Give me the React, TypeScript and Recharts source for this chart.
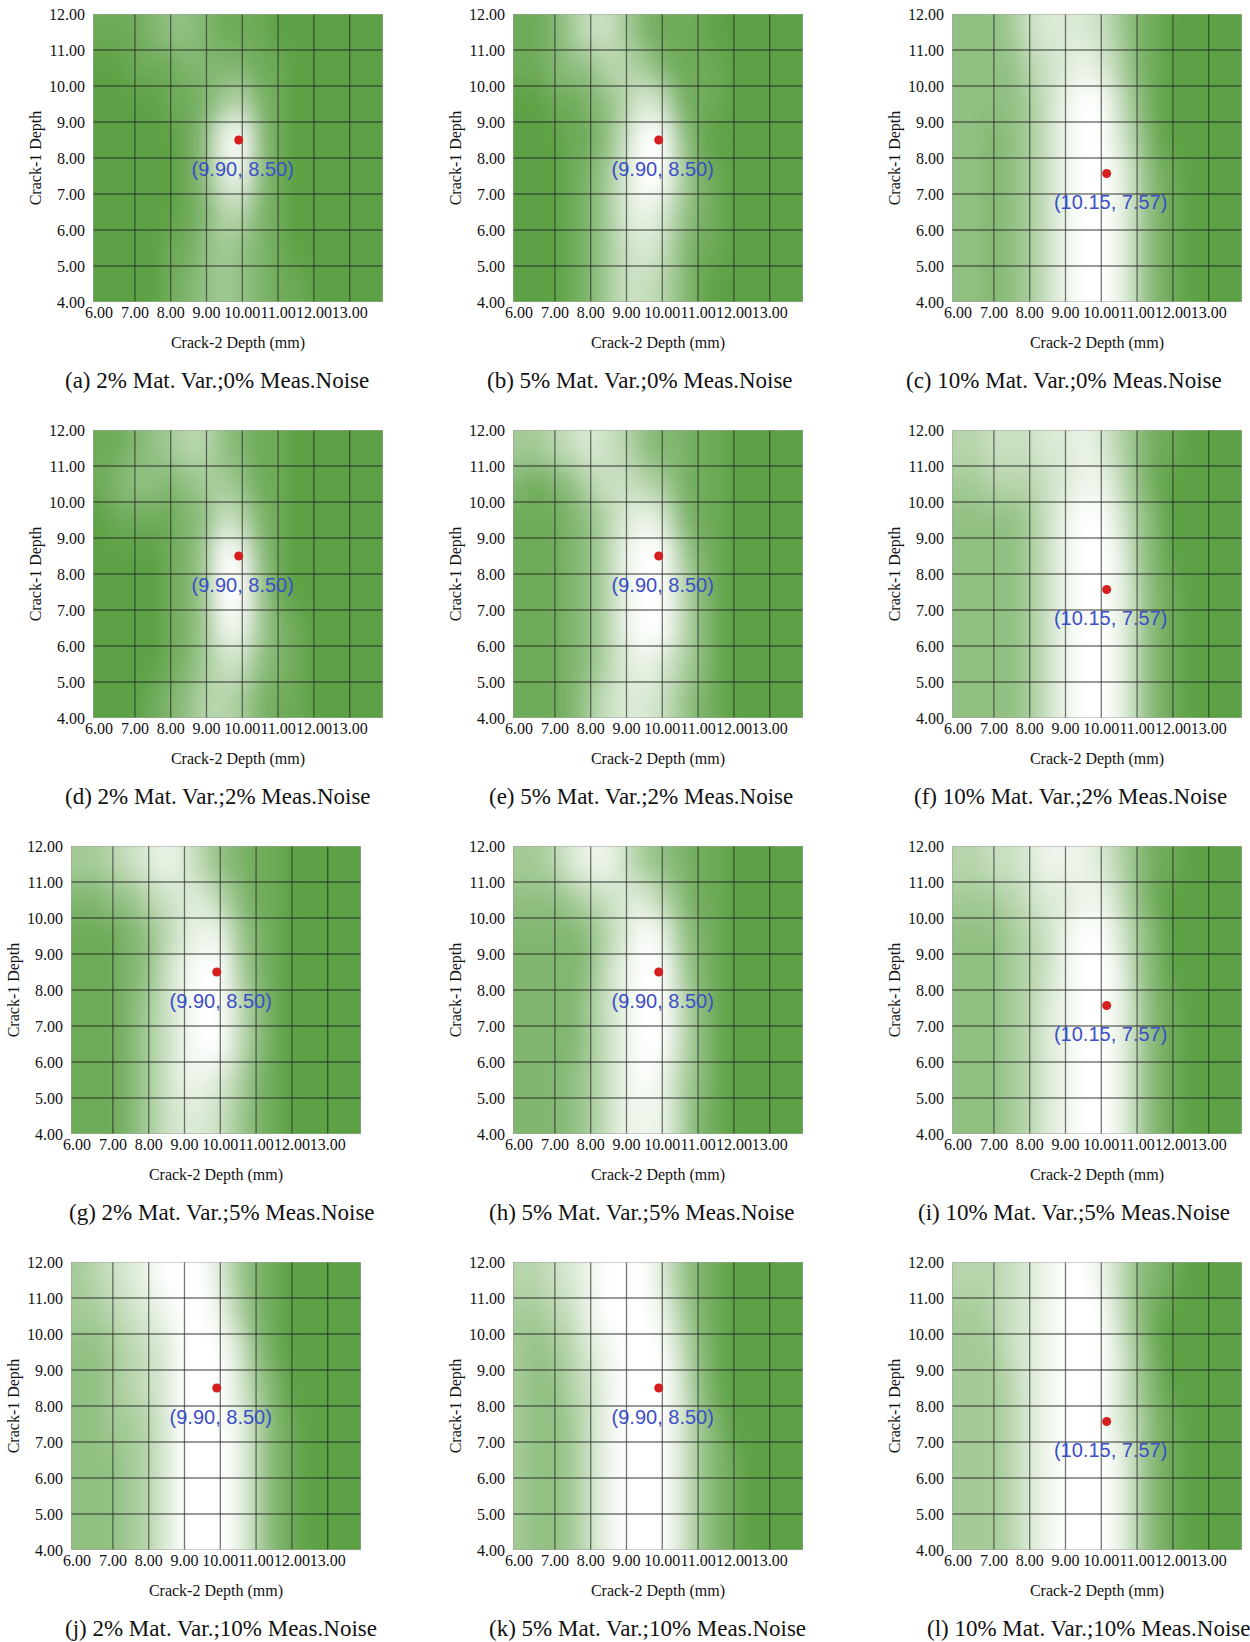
import React from 'react';
import { ScatterChart, Scatter, XAxis, YAxis } from 'recharts';

// cell centres of the sampled misfit surface (Crack-2 depth across, Crack-1 depth down)
const xCenters = [6.0, 6.5, 7.0, 7.5, 8.0, 8.5, 9.0, 9.5, 10.0, 10.5, 11.0, 11.5, 12.0, 12.5, 13.0, 13.5];
const yCenters = [11.5, 10.5, 9.5, 8.5, 7.5, 6.5, 5.5, 4.5];

const xTicks = [6, 7, 8, 9, 10, 11, 12, 13];
const yTicks = [4, 5, 6, 7, 8, 9, 10, 11, 12];
const xGridLines = [7, 8, 9, 10, 11, 12, 13];
const yGridLines = [5, 6, 7, 8, 9, 10, 11];
const xMinorTicks = [6.25, 6.5, 6.75, 7.25, 7.5, 7.75, 8.25, 8.5, 8.75, 9.25, 9.5, 9.75, 10.25, 10.5, 10.75, 11.25, 11.5, 11.75, 12.25, 12.5, 12.75, 13.25, 13.5, 13.75];
const yMinorTicks = [4.25, 4.5, 4.75, 5.25, 5.5, 5.75, 6.25, 6.5, 6.75, 7.25, 7.5, 7.75, 8.25, 8.5, 8.75, 9.25, 9.5, 9.75, 10.25, 10.5, 10.75, 11.25, 11.5, 11.75];

// whiteness 0 (green) .. 9 (white), rows from y=11.5 down to y=4.5
const gridA = [
  [1, 1, 1, 2, 3, 3, 2, 1, 1, 1, 0, 0, 0, 0, 0, 0],
  [0, 0, 1, 1, 1, 2, 2, 2, 2, 1, 1, 0, 0, 0, 0, 0],
  [0, 0, 0, 0, 1, 1, 2, 4, 5, 2, 1, 0, 0, 0, 0, 0],
  [0, 0, 0, 0, 0, 1, 3, 8, 9, 3, 1, 0, 0, 0, 0, 0],
  [0, 0, 0, 0, 0, 1, 3, 7, 8, 3, 1, 0, 0, 0, 0, 0],
  [0, 0, 0, 0, 0, 1, 2, 5, 5, 2, 1, 0, 0, 0, 0, 0],
  [0, 0, 0, 0, 1, 1, 3, 4, 3, 2, 1, 0, 0, 0, 0, 0],
  [0, 0, 0, 0, 1, 2, 3, 4, 3, 2, 1, 1, 0, 0, 0, 0],
];
const gridB = [
  [1, 1, 2, 4, 6, 6, 4, 2, 1, 1, 1, 0, 0, 0, 0, 0],
  [1, 1, 2, 3, 3, 5, 5, 4, 2, 1, 1, 1, 0, 0, 0, 0],
  [0, 0, 1, 1, 2, 3, 5, 7, 6, 2, 1, 1, 0, 0, 0, 0],
  [0, 0, 0, 1, 1, 3, 6, 9, 9, 4, 1, 0, 0, 0, 0, 0],
  [0, 0, 0, 1, 2, 4, 7, 9, 9, 5, 2, 1, 0, 0, 0, 0],
  [0, 0, 0, 1, 2, 4, 7, 8, 7, 4, 2, 1, 0, 0, 0, 0],
  [0, 0, 0, 1, 2, 4, 6, 7, 6, 3, 1, 1, 0, 0, 0, 0],
  [0, 0, 0, 1, 2, 4, 6, 6, 5, 3, 1, 0, 0, 0, 0, 0],
];
const gridC = [
  [3, 3, 3, 4, 6, 7, 7, 7, 6, 4, 2, 1, 0, 0, 0, 0],
  [3, 3, 3, 3, 5, 6, 7, 8, 7, 5, 2, 1, 0, 0, 0, 0],
  [3, 3, 3, 3, 4, 6, 8, 9, 9, 6, 3, 1, 0, 0, 0, 0],
  [3, 3, 2, 3, 4, 6, 8, 9, 9, 7, 4, 1, 0, 0, 0, 0],
  [3, 3, 2, 3, 4, 6, 8, 9, 9, 8, 5, 2, 1, 0, 0, 0],
  [3, 3, 2, 3, 4, 6, 8, 9, 9, 8, 5, 2, 1, 0, 0, 0],
  [3, 3, 2, 3, 4, 6, 8, 9, 9, 8, 5, 2, 1, 0, 0, 0],
  [3, 3, 2, 3, 4, 6, 8, 9, 9, 8, 5, 2, 1, 0, 0, 0],
];
const gridD = [
  [1, 1, 2, 3, 4, 5, 5, 3, 2, 1, 1, 0, 0, 0, 0, 0],
  [1, 2, 3, 3, 2, 3, 4, 4, 3, 1, 1, 0, 0, 0, 0, 0],
  [0, 1, 1, 1, 1, 2, 3, 6, 5, 2, 1, 0, 0, 0, 0, 0],
  [0, 0, 0, 0, 1, 2, 4, 9, 8, 3, 1, 0, 0, 0, 0, 0],
  [0, 0, 0, 0, 1, 2, 4, 9, 9, 4, 1, 0, 0, 0, 0, 0],
  [0, 0, 0, 0, 1, 2, 4, 8, 8, 4, 2, 1, 0, 0, 0, 0],
  [0, 0, 0, 0, 1, 2, 4, 6, 6, 3, 2, 1, 0, 0, 0, 0],
  [0, 0, 0, 1, 2, 3, 5, 5, 4, 2, 1, 1, 0, 0, 0, 0],
];
const gridE = [
  [4, 4, 5, 6, 7, 6, 5, 3, 2, 2, 1, 1, 0, 0, 0, 0],
  [2, 1, 2, 3, 5, 6, 6, 5, 4, 2, 1, 1, 0, 0, 0, 0],
  [1, 1, 1, 2, 3, 5, 7, 8, 7, 3, 1, 1, 0, 0, 0, 0],
  [1, 1, 1, 2, 3, 5, 8, 9, 9, 5, 2, 1, 0, 0, 0, 0],
  [1, 1, 1, 2, 3, 5, 8, 9, 9, 6, 3, 1, 0, 0, 0, 0],
  [1, 1, 1, 2, 3, 5, 8, 9, 9, 6, 3, 1, 0, 0, 0, 0],
  [1, 1, 1, 2, 3, 5, 7, 8, 7, 5, 3, 1, 0, 0, 0, 0],
  [1, 1, 1, 2, 4, 6, 7, 7, 6, 4, 2, 1, 0, 0, 0, 0],
];
const gridF = [
  [5, 5, 6, 6, 6, 7, 7, 8, 7, 5, 3, 1, 1, 0, 0, 0],
  [4, 4, 5, 5, 5, 6, 7, 8, 8, 6, 3, 1, 0, 0, 0, 0],
  [3, 3, 3, 3, 4, 6, 8, 9, 9, 7, 4, 2, 0, 0, 0, 0],
  [3, 3, 3, 3, 4, 6, 8, 9, 9, 8, 4, 2, 0, 0, 0, 0],
  [3, 3, 3, 3, 4, 6, 8, 9, 9, 8, 5, 2, 1, 0, 0, 0],
  [3, 3, 3, 3, 4, 6, 8, 9, 9, 8, 5, 2, 1, 0, 0, 0],
  [3, 3, 3, 3, 4, 6, 8, 9, 9, 8, 5, 2, 1, 0, 0, 0],
  [3, 3, 3, 3, 4, 6, 8, 9, 9, 8, 5, 2, 1, 0, 0, 0],
];
const gridG = [
  [4, 4, 5, 6, 7, 8, 7, 5, 3, 2, 1, 1, 0, 0, 0, 0],
  [2, 2, 3, 3, 5, 6, 7, 7, 5, 3, 1, 1, 0, 0, 0, 0],
  [1, 1, 1, 2, 3, 5, 7, 8, 8, 4, 2, 1, 0, 0, 0, 0],
  [1, 1, 1, 2, 3, 6, 8, 9, 9, 5, 2, 1, 0, 0, 0, 0],
  [1, 1, 1, 2, 4, 6, 8, 9, 9, 6, 3, 1, 0, 0, 0, 0],
  [1, 1, 1, 2, 4, 6, 8, 9, 9, 6, 3, 1, 0, 0, 0, 0],
  [1, 1, 1, 2, 4, 6, 8, 8, 7, 5, 2, 1, 0, 0, 0, 0],
  [1, 1, 1, 2, 4, 6, 7, 7, 6, 4, 2, 1, 0, 0, 0, 0],
];
const gridH = [
  [4, 4, 5, 7, 8, 8, 6, 4, 3, 2, 1, 1, 0, 0, 0, 0],
  [3, 3, 3, 4, 5, 6, 7, 7, 5, 3, 1, 1, 0, 0, 0, 0],
  [2, 2, 2, 2, 3, 5, 7, 9, 8, 4, 2, 1, 0, 0, 0, 0],
  [2, 2, 2, 2, 3, 6, 8, 9, 9, 5, 2, 1, 0, 0, 0, 0],
  [2, 2, 2, 2, 4, 6, 8, 9, 9, 6, 3, 1, 0, 0, 0, 0],
  [2, 2, 2, 2, 4, 6, 8, 9, 9, 6, 3, 1, 0, 0, 0, 0],
  [2, 2, 2, 3, 4, 6, 8, 9, 8, 5, 3, 1, 0, 0, 0, 0],
  [2, 2, 2, 3, 4, 6, 8, 8, 8, 5, 2, 1, 0, 0, 0, 0],
];
const gridI = [
  [5, 5, 6, 6, 7, 8, 8, 8, 7, 5, 3, 1, 1, 0, 0, 0],
  [4, 4, 4, 5, 6, 7, 7, 8, 8, 6, 3, 1, 0, 0, 0, 0],
  [3, 3, 3, 4, 5, 6, 8, 9, 9, 7, 4, 2, 0, 0, 0, 0],
  [3, 3, 3, 4, 5, 6, 8, 9, 9, 8, 4, 2, 0, 0, 0, 0],
  [3, 3, 3, 4, 5, 7, 8, 9, 9, 8, 5, 2, 1, 0, 0, 0],
  [3, 3, 3, 4, 5, 7, 8, 9, 9, 8, 5, 2, 1, 0, 0, 0],
  [3, 3, 3, 4, 5, 7, 8, 9, 9, 8, 5, 2, 1, 0, 0, 0],
  [3, 3, 3, 4, 5, 7, 8, 9, 9, 8, 5, 2, 1, 0, 0, 0],
];
const gridJ = [
  [4, 5, 6, 7, 8, 9, 9, 9, 7, 4, 2, 1, 0, 0, 0, 0],
  [4, 4, 5, 6, 7, 8, 9, 9, 8, 5, 2, 1, 0, 0, 0, 0],
  [3, 3, 4, 5, 6, 7, 9, 9, 9, 7, 3, 1, 0, 0, 0, 0],
  [3, 3, 4, 5, 6, 7, 9, 9, 9, 7, 4, 2, 0, 0, 0, 0],
  [3, 3, 4, 4, 5, 7, 9, 9, 9, 8, 5, 2, 1, 0, 0, 0],
  [3, 3, 3, 4, 5, 7, 9, 9, 9, 8, 5, 2, 1, 0, 0, 0],
  [3, 3, 3, 4, 5, 7, 9, 9, 9, 8, 5, 2, 1, 0, 0, 0],
  [3, 3, 3, 4, 5, 7, 9, 9, 9, 8, 5, 2, 1, 0, 0, 0],
];
const gridK = [
  [5, 5, 6, 7, 8, 9, 9, 9, 7, 4, 2, 1, 0, 0, 0, 0],
  [4, 4, 5, 6, 8, 9, 9, 9, 8, 5, 2, 1, 0, 0, 0, 0],
  [4, 3, 4, 5, 7, 8, 9, 9, 9, 6, 3, 1, 0, 0, 0, 0],
  [4, 3, 3, 5, 6, 8, 9, 9, 9, 7, 3, 1, 0, 0, 0, 0],
  [4, 3, 3, 4, 6, 8, 9, 9, 9, 7, 4, 2, 0, 0, 0, 0],
  [4, 3, 3, 4, 6, 8, 9, 9, 9, 7, 4, 2, 1, 0, 0, 0],
  [4, 3, 3, 4, 6, 8, 9, 9, 9, 7, 4, 2, 1, 0, 0, 0],
  [4, 3, 3, 4, 6, 8, 9, 9, 9, 7, 4, 2, 1, 0, 0, 0],
];
const gridL = [
  [5, 5, 5, 6, 7, 8, 9, 9, 8, 6, 3, 2, 1, 0, 0, 0],
  [4, 4, 5, 6, 7, 8, 9, 9, 9, 6, 3, 1, 0, 0, 0, 0],
  [4, 4, 4, 6, 7, 8, 9, 9, 9, 7, 4, 1, 0, 0, 0, 0],
  [4, 4, 4, 5, 7, 8, 9, 9, 9, 7, 4, 2, 0, 0, 0, 0],
  [4, 4, 4, 5, 7, 8, 9, 9, 9, 7, 5, 2, 1, 0, 0, 0],
  [4, 4, 4, 5, 7, 8, 9, 9, 9, 8, 5, 2, 1, 0, 0, 0],
  [4, 4, 4, 5, 7, 8, 9, 9, 9, 8, 5, 2, 1, 0, 0, 0],
  [4, 4, 4, 5, 7, 8, 9, 9, 9, 8, 5, 2, 1, 0, 0, 0],
];

const grids = [gridA, gridB, gridC, gridD, gridE, gridF, gridG, gridH, gridI, gridJ, gridK, gridL];

const captions = [
  '(a) 2% Mat. Var.;0% Meas.Noise', '(b) 5% Mat. Var.;0% Meas.Noise', '(c) 10% Mat. Var.;0% Meas.Noise',
  '(d) 2% Mat. Var.;2% Meas.Noise', '(e) 5% Mat. Var.;2% Meas.Noise', '(f) 10% Mat. Var.;2% Meas.Noise',
  '(g) 2% Mat. Var.;5% Meas.Noise', '(h) 5% Mat. Var.;5% Meas.Noise', '(i) 10% Mat. Var.;5% Meas.Noise',
  '(j) 2% Mat. Var.;10% Meas.Noise', '(k) 5% Mat. Var.;10% Meas.Noise', '(l) 10% Mat. Var.;10% Meas.Noise',
];

// best estimate (Crack-2, Crack-1) per panel
const estCrack2 = [9.9, 9.9, 10.15, 9.9, 9.9, 10.15, 9.9, 9.9, 10.15, 9.9, 9.9, 10.15];
const estCrack1 = [8.5, 8.5, 7.57, 8.5, 8.5, 7.57, 8.5, 8.5, 7.57, 8.5, 8.5, 7.57];

// layout
const X_MIN = 5.83;
const X_MAX = 13.93;
const Y_MIN = 4;
const Y_MAX = 12;
const PLOT_W = 290;
const PLOT_H = 288;
const AXIS_W = 70;
const TOP = 10;
const RIGHT = 10;
const X_AXIS_H = 50;
const CHART_W = AXIS_W + PLOT_W + RIGHT;
const CHART_H = TOP + PLOT_H + X_AXIS_H;

const plotLefts = [93, 513, 952, 93, 513, 952, 71, 513, 952, 71, 513, 952];
const plotTops = [14, 430, 846, 1262];
const captionLefts = [65, 487, 906, 65, 489, 914, 69, 489, 918, 65, 489, 927];

const CELL_W = (PLOT_W / (X_MAX - X_MIN)) * 0.5;
const CELL_H = PLOT_H / (Y_MAX - Y_MIN);
const SERIF = '"Liberation Serif", "Times New Roman", serif';
const GRID_STROKE = 'rgba(35,35,35,0.62)';

const GREEN = [92, 161, 68];
const shade = (v: number) => {
  const t = v / 9;
  const c = GREEN.map((g) => Math.round(g + (255 - g) * t));
  return `rgb(${c[0]},${c[1]},${c[2]})`;
};

const HeatCell = (props: any) => {
  const { cx, cy, payload } = props;
  let x0 = cx - CELL_W / 2 - 0.5;
  let x1 = cx + CELL_W / 2 + 0.5;
  let y0 = cy - CELL_H / 2 - 0.5;
  let y1 = cy + CELL_H / 2 + 0.5;
  if (payload.x === xCenters[0]) x0 -= 30;
  if (payload.x === xCenters[xCenters.length - 1]) x1 += 30;
  if (payload.y === yCenters[0]) y0 -= 30;
  if (payload.y === yCenters[yCenters.length - 1]) y1 += 30;
  return <rect x={x0} y={y0} width={x1 - x0} height={y1 - y0} fill={shade(payload.v)} />;
};

// vertical grid line anchored at the bottom of the plot
const VLine = (props: any) => {
  const { cx, cy } = props;
  return <line x1={cx} x2={cx} y1={cy + 1} y2={cy - PLOT_H} stroke={GRID_STROKE} strokeWidth={1.3} />;
};
// horizontal grid line anchored at the left of the plot
const HLine = (props: any) => {
  const { cx, cy } = props;
  return <line x1={cx - 2} x2={cx + PLOT_W} y1={cy} y2={cy} stroke={GRID_STROKE} strokeWidth={1.3} />;
};
const Frame = (props: any) => {
  const { cx, cy } = props;
  return <rect x={cx} y={cy} width={PLOT_W} height={PLOT_H} fill="none" stroke="#a0a0a0" strokeWidth={1} />;
};
const XMinor = (props: any) => {
  const { cx, cy } = props;
  return <line x1={cx} x2={cx} y1={cy + 1} y2={cy + 4} stroke="#999" strokeWidth={1} />;
};
const YMinor = (props: any) => {
  const { cx, cy } = props;
  return <line x1={cx - 4} x2={cx - 1} y1={cy} y2={cy} stroke="#999" strokeWidth={1} />;
};

const EstimateMark = (props: any) => {
  const { cx, cy, payload } = props;
  return (
    <g>
      <circle cx={cx} cy={cy} r={4.5} fill="#d61f1f" />
      <text
        x={cx + 4}
        y={cy + 36}
        textAnchor="middle"
        fontFamily='"Liberation Sans", Arial, sans-serif'
        fontSize={20}
        fill="#3c4fc6"
      >
        {payload.label}
      </text>
    </g>
  );
};

const fmt = (v: number) => v.toFixed(2);

const Panel = ({ index }: { index: number }) => {
  const cells = grids[index].flatMap((row, r) => row.map((v, c) => ({ x: xCenters[c], y: yCenters[r], v })));
  const est = [{ x: estCrack2[index], y: estCrack1[index], label: `(${fmt(estCrack2[index])}, ${fmt(estCrack1[index])})` }];
  const vLines = xGridLines.map((x) => ({ x, y: Y_MIN }));
  const hLines = yGridLines.map((y) => ({ x: X_MIN, y }));
  const xMinor = xMinorTicks.map((x) => ({ x, y: Y_MIN }));
  const yMinor = yMinorTicks.map((y) => ({ x: X_MIN, y }));
  const frame = [{ x: X_MIN, y: Y_MAX }];
  const row = Math.floor(index / 3);
  const left = plotLefts[index] - AXIS_W;
  const top = plotTops[row] - TOP;
  return (
    <>
      <div style={{ position: 'absolute', left, top, width: CHART_W, height: CHART_H }}>
        <ScatterChart width={CHART_W} height={CHART_H} margin={{ top: TOP, right: RIGHT, bottom: 0, left: 0 }}>
          <XAxis
            type="number"
            dataKey="x"
            domain={[X_MIN, X_MAX]}
            allowDataOverflow
            ticks={xTicks}
            interval={0}
            tickFormatter={fmt}
            height={X_AXIS_H}
            axisLine={false}
            tickLine={false}
            tickSize={0}
            tickMargin={5}
            tick={{ fontFamily: SERIF, fontSize: 16, fill: '#111' }}
            label={{ value: 'Crack-2 Depth (mm)', position: 'insideBottom', offset: 4, style: { fontFamily: SERIF, fontSize: 16, fill: '#111' } }}
          />
          <YAxis
            type="number"
            dataKey="y"
            domain={[Y_MIN, Y_MAX]}
            allowDataOverflow
            ticks={yTicks}
            interval={0}
            tickFormatter={fmt}
            width={AXIS_W}
            axisLine={false}
            tickLine={false}
            tickSize={0}
            tickMargin={8}
            tick={{ fontFamily: SERIF, fontSize: 16, fill: '#111' }}
            label={{ value: 'Crack-1 Depth', angle: -90, position: 'insideLeft', offset: 12, style: { fontFamily: SERIF, fontSize: 16, fill: '#111', textAnchor: 'middle' } }}
          />
          <Scatter className="heat-cells" data={cells} shape={HeatCell} isAnimationActive={false} />
          <Scatter data={vLines} shape={VLine} isAnimationActive={false} />
          <Scatter data={hLines} shape={HLine} isAnimationActive={false} />
          <Scatter data={frame} shape={Frame} isAnimationActive={false} />
          <Scatter data={xMinor} shape={XMinor} isAnimationActive={false} />
          <Scatter data={yMinor} shape={YMinor} isAnimationActive={false} />
          <Scatter data={est} shape={EstimateMark} isAnimationActive={false} />
        </ScatterChart>
      </div>
      <div
        style={{
          position: 'absolute',
          left: captionLefts[index],
          top: plotTops[row] + 353,
          fontFamily: SERIF,
          fontSize: 23,
          lineHeight: '28px',
          whiteSpace: 'nowrap',
          color: '#111',
        }}
      >
        {captions[index]}
      </div>
    </>
  );
};

export default function App() {
  return (
    <div style={{ position: 'absolute', left: 0, top: 0, width: 1250, height: 1642, background: '#fff', fontFamily: SERIF }}>
      <style>{`.heat-cells { filter: url(#heatBlur); clip-path: url(#heatClip); }
.recharts-cartesian-axis-tick text, .recharts-cartesian-axis-tick-value, .recharts-label { font-family: "Liberation Serif", "Times New Roman", serif !important; }`}</style>
      <svg width={0} height={0} style={{ position: 'absolute' }}>
        <defs>
          <filter id="heatBlur" x="-20%" y="-20%" width="140%" height="140%">
            <feGaussianBlur stdDeviation="9 14" />
          </filter>
          <clipPath id="heatClip" clipPathUnits="userSpaceOnUse">
            <rect x={AXIS_W} y={TOP} width={PLOT_W} height={PLOT_H} />
          </clipPath>
        </defs>
      </svg>
      {grids.map((_, i) => (
        <Panel key={i} index={i} />
      ))}
    </div>
  );
}
